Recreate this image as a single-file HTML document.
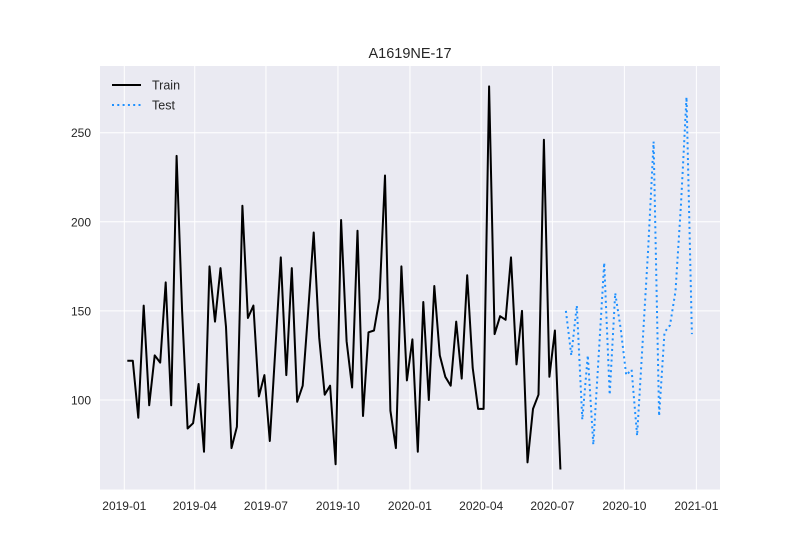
<!DOCTYPE html>
<html><head><meta charset="utf-8"><style>
body{margin:0;background:#fff;}
svg text{font-family:"Liberation Sans",Arial,sans-serif;fill:#262626;}
</style></head><body>
<svg id="chart" width="800" height="550">
<rect x="0" y="0" width="800" height="550" fill="#fff"/>
<rect x="100" y="66" width="620" height="423.5" fill="#eaeaf2"/>
<g id="grid"></g>
<g id="xticks"></g>
<g id="yticks"></g>
<g id="series"></g>
<text x="410" y="58" font-size="14.5" text-anchor="middle">A1619NE-17</text>
<g>
<line x1="112" y1="85" x2="141" y2="85" stroke="#000" stroke-width="2"/>
<text x="152" y="89.5" font-size="12.5">Train</text>
<line x1="112" y1="105" x2="141" y2="105" stroke="#1e90ff" stroke-width="2" stroke-dasharray="2,3.3"/>
<text x="152" y="109.5" font-size="12.5">Test</text>
</g>
</svg>
<script>
const trainValues=[122,122,90,153,97,125,121,166,97,237,150,84,87,109,71,175,144,174,141,73,85,209,146,153,102,114,77,128,180,114,174,99,108,150,194,135,103,108,64,
201,133,107,195,91,138,139,157,226,94,73,175,111,134,71,155,100,164,125,113,108,144,112,170,118,95,95,276,137,147,145,180,120,150,65,95,103,246,113,139,61];
const testValues=[150,125,153,89,125,75,126,177,103,160,140,114,117,80,132,184,245,91,138,142,161,210,270,137];
const xTickLabels=["2019-01","2019-04","2019-07","2019-10","2020-01","2020-04","2020-07","2020-10","2021-01"];
const xTickDays=[0,90,181,273,365,456,547,639,731];
const yTickValues=[100,150,200,250];

const NS="http://www.w3.org/2000/svg";
function mk(tag,attrs,parent){const e=document.createElementNS(NS,tag);for(const k in attrs)e.setAttribute(k,attrs[k]);parent.appendChild(e);return e;}
function xDay(d){return 124.3+d*0.7826;}
function xIdx(i){return 127.3+i*5.482;}
function yVal(v){return 400-(v-100)*1.782;}
const grid=document.getElementById('grid'),xt=document.getElementById('xticks'),yt=document.getElementById('yticks'),ser=document.getElementById('series');
xTickDays.forEach((d,k)=>{
  const x=xDay(d);
  const l=mk('line',{x1:x,x2:x,y1:66,y2:489.5,stroke:'#fff','stroke-width':1},grid);
  
  
  const t=mk('text',{x:x,y:510,'font-size':12,'text-anchor':'middle'},xt);
  t.textContent=xTickLabels[k];
  
  
});
yTickValues.forEach(v=>{
  const y=yVal(v);
  const l=mk('line',{x1:100,x2:720,y1:y,y2:y,stroke:'#fff','stroke-width':1},grid);
  
  
  const t=mk('text',{x:91,y:y+4.5,'font-size':12,'text-anchor':'end'},yt);
  t.textContent=v;
  
  
});
const tp=trainValues.map((v,i)=>xIdx(i).toFixed(1)+','+yVal(v).toFixed(1)).join(' ');
const tl=mk('polyline',{points:tp,fill:'none',stroke:'#000','stroke-width':2,'stroke-linejoin':'round'},ser);


const off=trainValues.length;
const sp=testValues.map((v,i)=>xIdx(off+i).toFixed(1)+','+yVal(v).toFixed(1)).join(' ');
const sl=mk('polyline',{points:sp,fill:'none',stroke:'#1e90ff','stroke-width':2,'stroke-dasharray':'2,3.3'},ser);


</script>
</body></html>
